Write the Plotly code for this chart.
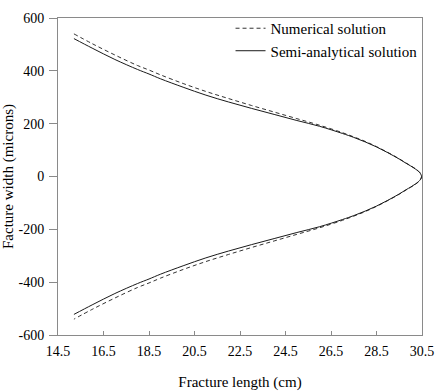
import plotly.graph_objects as go

# Fracture half-width profiles (microns) along fracture length (cm)
length_cm = [15.2, 16.0, 17.0, 18.0, 18.5, 19.0, 20.0, 21.0, 22.0, 23.0, 24.0,
             25.0, 26.0, 27.0, 27.5, 28.0, 28.5, 29.0, 29.5, 29.8, 30.0, 30.2, 30.35, 30.44, 30.48]
numerical_half_width = [540, 503, 460, 420, 403, 385, 352, 322, 295, 269, 244,
                        219, 194, 166, 150, 133, 113, 91, 67, 51, 41, 30, 20, 11, 0]
semi_analytical_half_width = [522, 486, 443, 405, 388, 370, 338, 308, 282, 258, 235,
                              212, 190, 163, 148, 131, 112, 90, 66, 50, 40, 29, 19, 10, 0]

x_ticks = [14.5, 16.5, 18.5, 20.5, 22.5, 24.5, 26.5, 28.5, 30.5]
y_ticks = [-600, -400, -200, 0, 200, 400, 600]


def full_profile(xs, ws):
    """Upper wall from the wellbore to the tip, then the lower wall back."""
    x_all = list(xs) + list(reversed(xs[:-1]))
    y_all = list(ws) + [-w for w in reversed(ws[:-1])]
    return x_all, y_all


FONT = "'Liberation Serif', 'Times New Roman', Times, serif"
AXIS_COLOR = "#8a8a8a"

fig = go.Figure()

xn, yn = full_profile(length_cm, numerical_half_width)
xs, ys = full_profile(length_cm, semi_analytical_half_width)

fig.add_trace(go.Scatter(
    x=xn, y=yn, mode="lines", name="Numerical solution",
    line=dict(color="#333333", width=1, dash="4px,3px", shape="spline", smoothing=1.0),
))
fig.add_trace(go.Scatter(
    x=xs, y=ys, mode="lines", name="Semi-analytical solution",
    line=dict(color="#1a1a1a", width=1, shape="spline", smoothing=1.0),
))

fig.update_layout(
    width=435, height=392,
    margin=dict(l=58, r=13, t=13, b=57),
    paper_bgcolor="white", plot_bgcolor="white",
    font=dict(family=FONT, size=13, color="black"),
    showlegend=True,
    legend=dict(
        x=0.474, y=1.019, xanchor="left", yanchor="top",
        bgcolor="rgba(0,0,0,0)", borderwidth=0,
        font=dict(family=FONT, size=15, color="black"),
        itemwidth=30, tracegroupgap=0,
    ),
)

fig.update_xaxes(
    range=[14.5, 30.5], tickvals=x_ticks, ticktext=[f"{v:.1f}" for v in x_ticks],
    showgrid=False, zeroline=False, automargin=False,
    showline=True, linecolor=AXIS_COLOR, linewidth=1, mirror=True,
    ticks="inside", ticklen=4, tickcolor=AXIS_COLOR, ticklabelstandoff=3,
    ticklabeloverflow="allow",
    tickfont=dict(family=FONT, size=14, color="black"),
    title=dict(text="Fracture length (cm)", font=dict(family=FONT, size=15, color="black"), standoff=18),
)
fig.update_yaxes(
    range=[-600, 600], tickvals=y_ticks, ticktext=[str(v) for v in y_ticks],
    showgrid=False, zeroline=False, automargin=False,
    showline=True, linecolor=AXIS_COLOR, linewidth=1, mirror=True,
    ticks="outside", ticklen=8, tickcolor=AXIS_COLOR, ticklabelstandoff=2,
    tickfont=dict(family=FONT, size=14, color="black"),
    title=dict(text="Facture width (microns)", font=dict(family=FONT, size=15, color="black"), standoff=5),
)

fig.write_html("out.html")
